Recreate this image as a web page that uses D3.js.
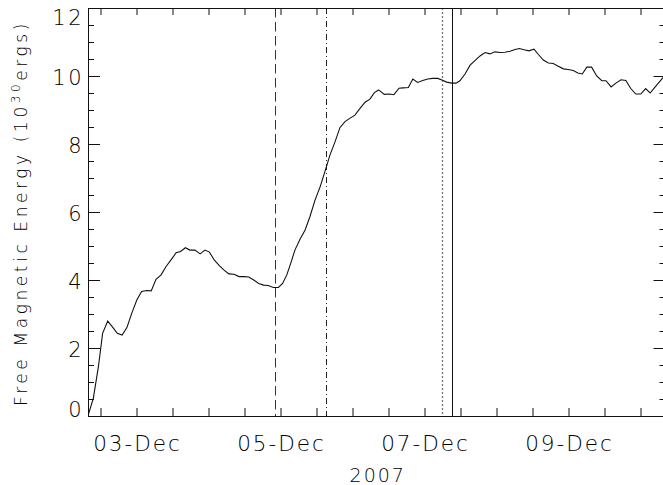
<!DOCTYPE html>
<html>
<head>
<meta charset="utf-8">
<script src="https://cdn.jsdelivr.net/npm/d3@7"></script>
<style>
  html, body { margin: 0; padding: 0; background: #fff; }
  svg { display: block; }
  text { font-family: "DejaVu Sans", sans-serif; font-weight: 200; fill: #000; }
</style>
</head>
<body>
<svg id="chart" width="663" height="485"></svg>
<script>
// ---- data ----
const startDate = "2007-12-03T00:00:00Z";          // hour 0 of the hours array
const hours = [-16.2, -14.4, -12.7, -11.3, -9.6, -8.1, -6.4, -4.8, -3.2, -1.6,
  0.1, 1.7, 3.4, 4.9, 6.5, 8.2, 9.8, 11.5, 13.2, 14.7,
  16.3, 17.8, 19.5, 21.2, 22.8, 24.3, 25.9, 27.6, 29.2, 30.8,
  32.5, 34.2, 35.8, 37.4, 39.1, 40.7, 42.4, 43.9, 45.6, 47.3,
  48.7, 50.1, 51.4, 52.8, 54.5, 56.2, 57.8, 59.5, 61.2, 62.8,
  64.5, 66.2, 67.8, 69.5, 71.2, 72.8, 74.5, 76.2, 77.8, 79.3,
  80.7, 82.6, 84.3, 85.8, 87.5, 88.9, 90.6, 92.1, 93.7, 95.4,
  97.1, 98.7, 100.4, 101.8, 103.4, 105.1, 106.5, 107.8, 109.5, 111.2,
  112.8, 114.5, 116.2, 117.8, 119.5, 121.2, 122.8, 124.5, 126.2, 127.6,
  129.2, 130.8, 132.5, 133.9, 135.6, 137.3, 138.9, 140.6, 142.3, 143.9,
  145.6, 147.1, 148.6, 150.1, 151.7, 153.4, 155.1, 156.5, 158.2, 159.8,
  161.5, 163.1, 164.7, 166.4, 168.1, 169.7, 171.2, 172.7, 174.3, 175.5, 176.4];
const energy = [0.0, 0.52, 1.45, 2.43, 2.79, 2.63, 2.43, 2.38, 2.60, 3.02,
  3.41, 3.66, 3.69, 3.68, 4.02, 4.15, 4.39, 4.59, 4.80, 4.84,
  4.95, 4.88, 4.88, 4.77, 4.88, 4.82, 4.59, 4.42, 4.29, 4.18,
  4.17, 4.10, 4.10, 4.09, 4.00, 3.90, 3.85, 3.84, 3.78, 3.78,
  3.90, 4.15, 4.49, 4.88, 5.20, 5.47, 5.86, 6.35, 6.74, 7.19,
  7.68, 8.07, 8.48, 8.66, 8.76, 8.85, 9.05, 9.23, 9.32, 9.51,
  9.59, 9.46, 9.47, 9.45, 9.64, 9.65, 9.66, 9.91, 9.81, 9.87,
  9.91, 9.93, 9.93, 9.88, 9.82, 9.79, 9.79, 9.86, 10.06, 10.32,
  10.45, 10.59, 10.69, 10.65, 10.71, 10.69, 10.70, 10.73, 10.78, 10.81,
  10.77, 10.74, 10.79, 10.64, 10.47, 10.38, 10.37, 10.29, 10.21, 10.19,
  10.16, 10.09, 10.06, 10.26, 10.26, 10.00, 9.86, 9.86, 9.68, 9.79,
  9.89, 9.87, 9.64, 9.47, 9.47, 9.63, 9.50, 9.66, 9.83, 9.95, 10.05];
const eventHours = [46.3, 63.1, 101.8, 105.1];
const eventStyles = ["dashed", "dashdot", "dotted", "solid"];
const xDomainHours = [-16.17, 176.33];
const yTickValues = [0, 2, 4, 6, 8, 10, 12];
const yearLabel = "2007";
const yTitle = ["Free Magnetic Energy (10", "30", "ergs)"];

// ---- layout ----
const W = 663, H = 485;
const m = { left: 88, top: 8, right: 665.5, bottom: 416 };
const t0 = new Date(startDate).getTime();
const toDate = h => new Date(t0 + h * 3600e3);

const x = d3.scaleUtc().domain(xDomainHours.map(toDate)).range([m.left, m.right]);
const y = d3.scaleLinear().domain([0, 12]).range([m.bottom, m.top]);

const svg = d3.select("#chart");
const data = hours.map((h, i) => ({ t: toDate(h), v: energy[i] }));

svg.append("defs").append("clipPath").attr("id", "clip")
  .append("rect").attr("x", m.left).attr("y", m.top)
  .attr("width", m.right - m.left).attr("height", m.bottom - m.top);

// vertical event lines
const dash = { dashed: "9.5,4.5", dashdot: "6,3,1,3", dotted: "2,2", solid: null };
const col = { dashed: "#333", dashdot: "#222", dotted: "#777", solid: "#111" };
svg.append("g").selectAll("line").data(eventHours).join("line")
  .attr("x1", d => Math.round(x(toDate(d))) + 0.5)
  .attr("x2", d => Math.round(x(toDate(d))) + 0.5)
  .attr("y1", m.top).attr("y2", m.bottom)
  .attr("stroke", (d, i) => col[eventStyles[i]])
  .attr("stroke-width", (d, i) => eventStyles[i] === "dotted" ? 1.3 : 1)
  .attr("stroke-dasharray", (d, i) => dash[eventStyles[i]]);

// curve
svg.append("path").datum(data)
  .attr("clip-path", "url(#clip)")
  .attr("fill", "none").attr("stroke", "#111").attr("stroke-width", 1.1)
  .attr("d", d3.line().x(d => x(d.t)).y(d => y(d.v)));

// axes
const xTicks = d3.utcHour.every(12).range(x.domain()[0], x.domain()[1]);
const fmt = d3.utcFormat("%d-%b");
const isLabel = d => (d.getTime() - t0) % (48 * 3600e3) === 0;

const gx = svg.append("g").attr("transform", `translate(0,${m.bottom})`)
  .call(d3.axisBottom(x).tickValues(xTicks).tickSize(-8).tickPadding(0).tickFormat(""));
const gxt = svg.append("g").attr("transform", `translate(0,${m.top})`)
  .call(d3.axisTop(x).tickValues(xTicks).tickSize(-7).tickFormat(""));
const minorY = d3.range(0, 12.01, 0.5).filter(v => v % 2 !== 0);
const gyl = svg.append("g").attr("transform", `translate(${m.left},0)`)
  .call(d3.axisLeft(y).tickValues(yTickValues).tickSize(-12).tickFormat(""));
const gylm = svg.append("g").attr("transform", `translate(${m.left},0)`)
  .call(d3.axisLeft(y).tickValues(minorY).tickSize(-6).tickFormat(""));
const gyr = svg.append("g").attr("transform", `translate(${m.right},0)`)
  .call(d3.axisRight(y).tickValues(yTickValues).tickSize(-12).tickFormat(""));
const gyrm = svg.append("g").attr("transform", `translate(${m.right},0)`)
  .call(d3.axisRight(y).tickValues(minorY).tickSize(-6).tickFormat(""));
[gx, gxt, gyl, gylm, gyr, gyrm].forEach(g => {
  g.selectAll(".domain").attr("stroke", "#111");
  g.selectAll(".tick line").attr("stroke", "#111");
});

// x labels
svg.append("g").selectAll("text").data(xTicks.filter(isLabel)).join("text")
  .attr("x", d => x(d) + 1).attr("y", 451)
  .attr("text-anchor", "middle")
  .style("font-size", "21.5px").style("letter-spacing", "2px")
  .text(d => fmt(d));
svg.append("text").attr("x", (m.left + m.right) / 2 + 1).attr("y", 481.5)
  .attr("text-anchor", "middle")
  .style("font-size", "19px").style("letter-spacing", "2px")
  .text(yearLabel);

// y labels (kept inside the frame at the ends)
const capH = 15.5;
svg.append("g").selectAll("text").data(yTickValues).join("text")
  .attr("x", 84).attr("text-anchor", "end")
  .attr("y", d => {
    let c = y(d) + capH / 2 + 1;
    c = Math.min(c, m.bottom + 1);
    c = Math.max(c, m.top + capH + 1);
    return c;
  })
  .style("font-size", "21px").style("letter-spacing", "2.5px")
  .text(d => d);

// y title: spans from y=406 up to y=20
const titleStart = 406, titleEnd = 20;
const tt = svg.append("text")
  .attr("transform", `translate(27,${titleStart}) rotate(-90)`)
  .attr("text-anchor", "start")
  .style("font-size", "17px");
tt.append("tspan").text(yTitle[0]);
tt.append("tspan").attr("dy", -7).style("font-size", "12px").text(yTitle[1]);
tt.append("tspan").attr("dy", 7).text(yTitle[2]);
const natural = tt.node().getComputedTextLength();
const nChars = yTitle.join("").length;
const ls = ((titleStart - titleEnd) - natural) / nChars;
tt.style("letter-spacing", ls + "px");
</script>
</body>
</html>
